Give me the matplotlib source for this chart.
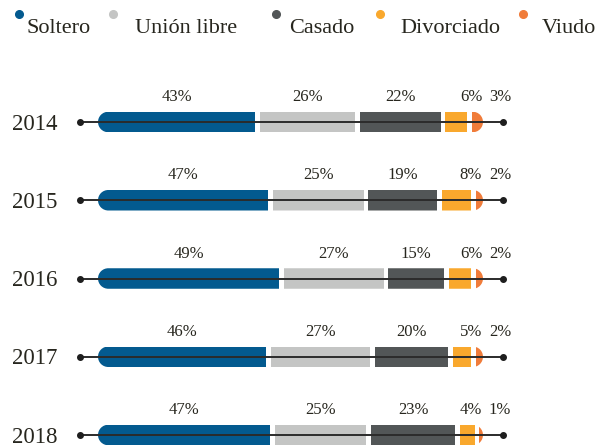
import matplotlib
matplotlib.use("Agg")
import matplotlib.pyplot as plt
from matplotlib.patches import Rectangle, PathPatch
from matplotlib.path import Path
import numpy as np

# ---------------- data ----------------
years = ["2014", "2015", "2016", "2017", "2018"]
categories = ["Soltero", "Unión libre", "Casado", "Divorciado", "Viudo"]
soltero = [43, 47, 49, 46, 47]
union_libre = [26, 25, 27, 27, 25]
casado = [22, 19, 15, 20, 23]
divorciado = [6, 8, 6, 5, 4]
viudo = [3, 2, 2, 2, 1]
series = [soltero, union_libre, casado, divorciado, viudo]
colors = ["#035a8f", "#c4c5c4", "#525657", "#f9a82d", "#f07c3a"]
text_color = "#27261e"

plt.rcParams['font.family'] = ['Liberation Serif', 'DejaVu Serif']

W, H = 600, 448
fig = plt.figure(figsize=(W / 100, H / 100), dpi=100)
ax = fig.add_axes([0, 0, 1, 1])
ax.axis('off')

# layout (pixels -> data)
gap = 1.3
bar_px0, bar_px1 = 98, 483
total_units = 100 + gap * (len(categories) - 1)
s = (bar_px1 - bar_px0) / total_units          # px per x-unit
ax.set_xlim(-bar_px0 / s, (W - bar_px0) / s)
row0_px, row_step_px = 122, 78.25
ax.set_ylim((H - row0_px) / row_step_px, -row0_px / row_step_px)
sy = row_step_px                                # px per y-unit

bar_h = 20.5 / sy
rx = (bar_h * sy / 2) / s
ry = bar_h / 2


def rounded_bar_path(x0, x1, yc):
    arc = Path.arc(-90, 90)
    v_r = arc.vertices * [rx, ry] + [x1 - rx, yc]
    arc2 = Path.arc(90, 270)
    v_l = arc2.vertices * [rx, ry] + [x0 + rx, yc]
    verts = np.vstack([v_r, v_l, v_r[:1]])
    codes = list(arc.codes) + [Path.LINETO] + list(arc2.codes[1:]) + [Path.CLOSEPOLY]
    return Path(verts, codes)


for i, yr in enumerate(years):
    vals = [ser[i] for ser in series]
    widths = [v * 100 / sum(vals) for v in vals]
    total = 100 + gap * (len(vals) - 1)
    clip = PathPatch(rounded_bar_path(0, total, i), transform=ax.transData)
    left = 0
    lefts = []
    for j, w in enumerate(widths):
        r = Rectangle((left, i - bar_h / 2), w, bar_h, facecolor=colors[j],
                      edgecolor='none', zorder=2)
        ax.add_patch(r)
        r.set_clip_path(clip)
        lefts.append(left)
        left += w + gap
    # axis line with end dots
    lx0 = -18 / s
    lx1 = total + 20 / s
    ax.plot([lx0, lx1], [i, i], color="#2b2b2b", lw=1.4, zorder=3,
            solid_capstyle='butt')
    ax.plot([lx0, lx1], [i, i], 'o', color="#1e1e1e", ms=4, zorder=4)
    # percent labels
    ly = i - 25 / sy
    for j, v in enumerate(vals):
        if j < 3:
            lx = lefts[j] + widths[j] / 2
        elif j == 3:
            lx = total - 12 / s
        else:
            lx = total + 17 / s
        ax.text(lx, ly, f"{v}%", ha='center', va='center', fontsize=12,
                color=text_color)
    # year label
    ax.text(12 / W, 1 - (i * sy + row0_px + 2) / H, yr, transform=ax.transAxes,
            ha='left', va='center', fontsize=16.5, color=text_color)

# legend
dot_px = [19, 113, 276, 380, 523]
text_px = [27, 135, 289, 400, 542]
for j, c in enumerate(categories):
    ax.plot([dot_px[j] / W], [1 - 14.5 / H], 'o', color=colors[j], ms=5.5,
            transform=ax.transAxes, clip_on=False)
    ax.text(text_px[j] / W, 1 - 33 / H, c, transform=ax.transAxes,
            ha='left', va='baseline', fontsize=16, color=text_color)

fig.savefig("out.png", dpi=100)
